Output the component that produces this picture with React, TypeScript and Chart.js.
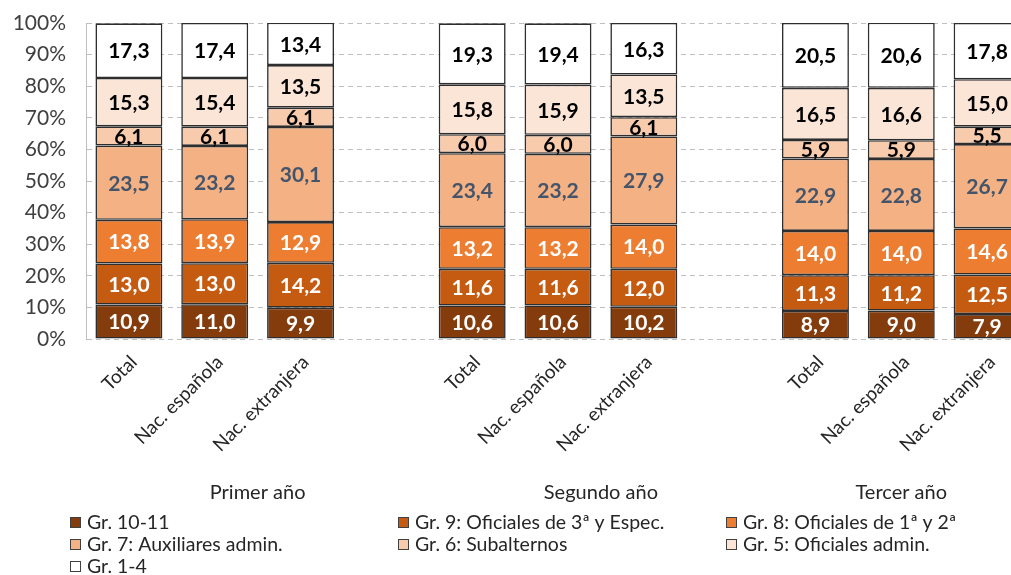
import React, { useEffect, useRef } from "react";
import { Chart, registerables } from "chart.js";

Chart.register(...registerables);

// ---- Data ----
const categories = [
  "Total", "Nac. española", "Nac. extranjera", "",
  "Total", "Nac. española", "Nac. extranjera", "",
  "Total", "Nac. española", "Nac. extranjera",
];
const groupLabels = ["Primer año", "Segundo año", "Tercer año"];
const groupFirst = [0, 4, 8];
const groupLast = [3, 7, 10];
const yTicks = [0, 10, 20, 30, 40, 50, 60, 70, 80, 90, 100];

const seriesNames = [
  "Gr. 10-11",
  "Gr. 9: Oficiales de 3ª y Espec.",
  "Gr. 8: Oficiales de 1ª y 2ª",
  "Gr. 7: Auxiliares admin.",
  "Gr. 6: Subalternos",
  "Gr. 5: Oficiales admin.",
  "Gr. 1-4",
];
const gr10_11 = [10.9, 11.0, 9.9, null, 10.6, 10.6, 10.2, null, 8.9, 9.0, 7.9];
const gr9 = [13.0, 13.0, 14.2, null, 11.6, 11.6, 12.0, null, 11.3, 11.2, 12.5];
const gr8 = [13.8, 13.9, 12.9, null, 13.2, 13.2, 14.0, null, 14.0, 14.0, 14.6];
const gr7 = [23.5, 23.2, 30.1, null, 23.4, 23.2, 27.9, null, 22.9, 22.8, 26.7];
const gr6 = [6.1, 6.1, 6.1, null, 6.0, 6.0, 6.1, null, 5.9, 5.9, 5.5];
const gr5 = [15.3, 15.4, 13.5, null, 15.8, 15.9, 13.5, null, 16.5, 16.6, 15.0];
const gr1_4 = [17.3, 17.4, 13.4, null, 19.3, 19.4, 16.3, null, 20.5, 20.6, 17.8];
const seriesValues = [gr10_11, gr9, gr8, gr7, gr6, gr5, gr1_4];

const seriesColors = ["#843C0C", "#C55A11", "#ED7D31", "#F4B183", "#F8CBAD", "#FBE5D6", "#FFFFFF"];
const labelColors = ["#FFFFFF", "#FFFFFF", "#FFFFFF", "#44546A", "#000000", "#000000", "#000000"];

const FONT = "Lato, 'Open Sans', sans-serif";
const CANVAS_W = 1060;
const CANVAS_H = 575;

const dataLabelPlugin = {
  id: "dataLabels",
  afterDatasetsDraw(chart: any) {
    const ctx = chart.ctx;
    ctx.save();
    ctx.font = `bold 21px ${FONT}`;
    ctx.textAlign = "center";
    ctx.textBaseline = "middle";
    chart.data.datasets.forEach((ds: any, di: number) => {
      const meta = chart.getDatasetMeta(di);
      meta.data.forEach((el: any, i: number) => {
        const v = ds.data[i];
        if (v == null) return;
        const y = (el.y + el.base) / 2;
        ctx.fillStyle = labelColors[di];
        ctx.fillText(v.toFixed(1).replace(".", ","), el.x, y + 1);
      });
    });
    ctx.restore();
  },
};

const extrasPlugin = {
  id: "extras",
  afterDraw(chart: any) {
    const ctx = chart.ctx;
    const xs = chart.scales.x;
    ctx.save();
    // group labels
    ctx.font = `20px ${FONT}`;
    ctx.fillStyle = "#262626";
    ctx.textAlign = "center";
    ctx.textBaseline = "middle";
    groupLabels.forEach((g, i) => {
      const x = (xs.getPixelForValue(groupFirst[i]) + xs.getPixelForValue(groupLast[i])) / 2;
      ctx.fillText(g, x, 493);
    });
    // legend
    const colX = [70, 398, 726];
    const rowY = [523, 545, 567];
    ctx.textAlign = "left";
    ctx.font = `19.5px ${FONT}`;
    seriesNames.forEach((name, i) => {
      const cx = colX[i % 3];
      const cy = rowY[Math.floor(i / 3)];
      ctx.fillStyle = seriesColors[i];
      ctx.fillRect(cx, cy - 6, 11, 11);
      ctx.strokeStyle = "#404040";
      ctx.lineWidth = 1;
      ctx.strokeRect(cx + 0.5, cy - 5.5, 10, 10);
      ctx.fillStyle = "#262626";
      ctx.fillText(name, cx + 17, cy);
    });
    ctx.restore();
  },
};

export default function App() {
  const ref = useRef<HTMLCanvasElement | null>(null);
  useEffect(() => {
    if (!ref.current) return;
    const chart = new Chart(ref.current, {
      type: "bar",
      data: {
        labels: categories,
        datasets: seriesNames.map((name, i) => ({
          label: name,
          data: seriesValues[i],
          backgroundColor: seriesColors[i],
          borderColor: "#2E2E2E",
          borderWidth: 1.6,
          borderSkipped: false,
          barPercentage: 0.78,
          categoryPercentage: 1,
        })),
      },
      options: {
        responsive: false,
        animation: false,
        layout: { padding: { top: 23, right: 30, left: 0, bottom: 0 } },
        plugins: { legend: { display: false }, tooltip: { enabled: false } },
        scales: {
          x: {
            stacked: true,
            grid: { display: false },
            border: { display: false },
            ticks: {
              minRotation: 45,
              maxRotation: 45,
              autoSkip: false,
              color: "#262626",
              font: { family: FONT, size: 19 },
              padding: 4,
              labelOffset: 5,
            },
            afterFit(scale: any) {
              scale.height = CANVAS_H - 339;
            },
          },
          y: {
            stacked: true,
            min: 0,
            max: 100,
            afterBuildTicks(scale: any) {
              scale.ticks = yTicks.map((v) => ({ value: v }));
            },
            grid: {
              color: "#BFBFBF",
              lineWidth: 1,
              drawTicks: true,
              tickLength: 20,
              tickColor: "rgba(0,0,0,0)",
            },
            border: { display: true, color: "#BFBFBF", dash: [5, 4] },
            ticks: {
              color: "#404040",
              font: { family: FONT, size: 21 },
              padding: 0,
              callback: (v: any) => `${v}%`,
            },
            afterFit(scale: any) {
              scale.width = 86;
            },
          },
        },
      },
      plugins: [dataLabelPlugin, extrasPlugin],
    });
    return () => chart.destroy();
  }, []);

  return (
    <div style={{ position: "fixed", left: 0, top: 0, width: 1011, height: 575, overflow: "hidden", background: "#fff" }}>
      <canvas ref={ref} width={CANVAS_W} height={CANVAS_H} style={{ width: CANVAS_W, height: CANVAS_H, display: "block" }} />
    </div>
  );
}
